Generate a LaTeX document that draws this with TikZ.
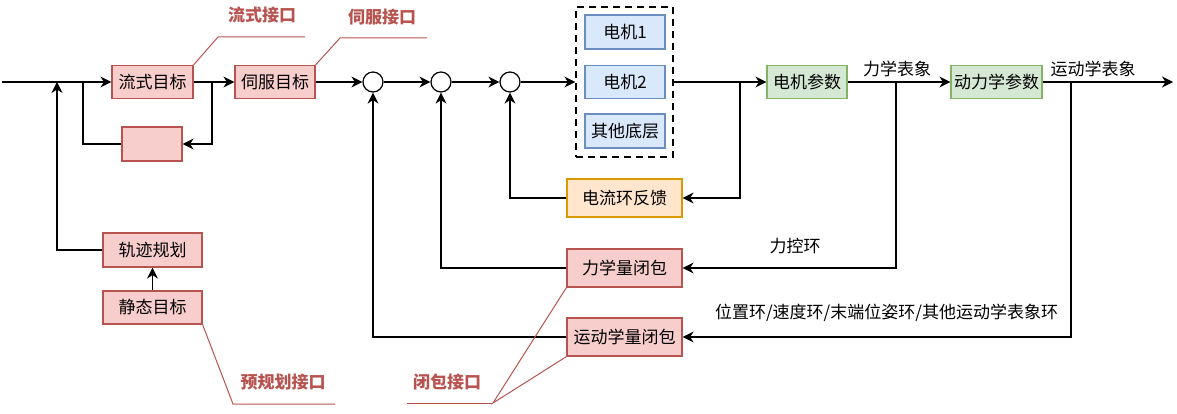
\documentclass[tikz,border=0pt]{standalone}
\usepackage{fontspec}
\setmainfont{Noto Sans CJK SC}
\usetikzlibrary{arrows.meta}
\definecolor{boxred}{HTML}{F8CECC}
\definecolor{linered}{HTML}{B85450}
\definecolor{boxblue}{HTML}{DAE8FC}
\definecolor{lineblue}{HTML}{6C8EBF}
\definecolor{boxgreen}{HTML}{D5E8D4}
\definecolor{linegreen}{HTML}{82B366}
\definecolor{boxorange}{HTML}{FFE6CC}
\definecolor{lineorange}{HTML}{D79B00}
\begin{document}
\begin{tikzpicture}[x=1pt,y=-1pt,
        font=\fontsize{17}{20}\selectfont,
        every node/.style={inner sep=0pt},
        redbox/.style={rectangle,fill=boxred,draw=linered,line width=1.2pt,minimum height=33pt},
        bluebox/.style={rectangle,fill=boxblue,draw=lineblue,line width=1.2pt,minimum width=80pt,minimum height=34pt},
        greenbox/.style={rectangle,fill=boxgreen,draw=linegreen,line width=1.2pt,minimum height=33pt},
        orangebox/.style={rectangle,fill=boxorange,draw=lineorange,line width=1.2pt,minimum height=38pt},
        sumnode/.style={circle,draw,line width=1.2pt,minimum size=20pt},
        link/.style={line width=1.3pt,-{Stealth[length=11pt,width=11pt,inset=3.5pt]}},
        wire/.style={line width=1.3pt},
        callout/.style={draw=linered,line width=1pt},
        tag/.style={text=linered,font=\fontsize{17}{20}\selectfont\bfseries}]
        \useasboundingbox (0,0) rectangle (1177,414);

        \node[redbox,minimum width=81pt] (flow) at (152.5,82) {流式目标};
        \node[redbox,minimum width=80pt] (servo) at (275,82) {伺服目标};
        \node[redbox,minimum width=60pt,minimum height=34pt] (blank) at (152,144) {};
        \node[redbox,minimum width=99pt,minimum height=34pt] (traj) at (152.5,250) {轨迹规划};
        \node[redbox,minimum width=99pt] (static) at (152.5,307.5) {静态目标};

        \node[sumnode] (sum1) at (373,82) {};
        \node[sumnode] (sum2) at (441,82) {};
        \node[sumnode] (sum3) at (510,82) {};

        \node[draw,dashed,line width=1.3pt,dash pattern=on 7pt off 5pt,minimum width=97pt,minimum height=150pt] (grp) at (624.5,82) {};
        \node[bluebox] (m1) at (625,32) {电机1};
        \node[bluebox,minimum height=33pt] (m2) at (625,82) {电机2};
        \node[bluebox] (m3) at (625,131) {其他底层};

        \node[orangebox,minimum width=115pt] (cur) at (624.5,198) {电流环反馈};
        \node[redbox,minimum width=115pt,minimum height=38pt] (force) at (624.5,268) {力学量闭包};
        \node[redbox,minimum width=115pt,minimum height=38pt] (kin) at (624.5,337) {运动学量闭包};

        \node[greenbox,minimum width=80pt] (motor) at (807,82) {电机参数};
        \node[greenbox,minimum width=91pt] (dyn) at (996.5,82) {动力学参数};

        \node (lforce) at (897,69) {力学表象};
        \node (lkin) at (1093,69) {运动学表象};
        \node (lloopf) at (795,246) {力控环};
        \node (lloopk) at (886.5,313) {位置环/速度环/末端位姿环/其他运动学表象环};

        \coordinate (in) at (2,82);
        \coordinate (out) at (1173,82);
        \coordinate (j0) at (57,82);
        \coordinate (j1) at (83,82);
        \coordinate (j2) at (212,82);
        \coordinate (c1) at (740,82);
        \coordinate (f1) at (896,82);
        \coordinate (k1) at (1071,82);

        \draw[link] (in) -- (flow);
        \draw[link] (flow) -- (servo);
        \draw[link] (servo) -- (sum1);
        \draw[link] (sum1) -- (sum2);
        \draw[link] (sum2) -- (sum3);
        \draw[link] (sum3) -- (grp.west);
        \draw[link] (grp.east) -- (motor);
        \draw[link] (motor) -- (dyn);
        \draw[link] (dyn) -- (out);

        \draw[link] (j2) |- (blank);
        \draw[wire] (blank) -| (j1);
        \draw[link] (traj) -| (j0);
        \draw[link] (static) -- (traj);

        \draw[link] (c1) |- (cur);
        \draw[link] (cur) -| (sum3);
        \draw[link] (f1) |- (force);
        \draw[link] (force) -| (sum2);
        \draw[link] (k1) |- (kin);
        \draw[link] (kin) -| (sum1);

        \draw[callout] (flow.north east) -- (218,37) coordinate (t1) -- (305,37);
        \node[tag] (tflow) at (262,15) {流式接口};
        \draw[callout] (servo.north east) -- (340,38) coordinate (t2) -- (427,38);
        \node[tag] (tservo) at (382,17) {伺服接口};
        \draw[callout] (static.south east) -- (233,404) coordinate (t3) -- (335,404);
        \node[tag] (tplan) at (283,382) {预规划接口};
        \coordinate (t4) at (493,403);
        \draw[callout] (force.south west) -- (t4) -- (kin.south west);
        \draw[callout] (t4) -- (407,403);
        \node[tag] (tloop) at (447,382) {闭包接口};
    \end{tikzpicture}
\end{document}
